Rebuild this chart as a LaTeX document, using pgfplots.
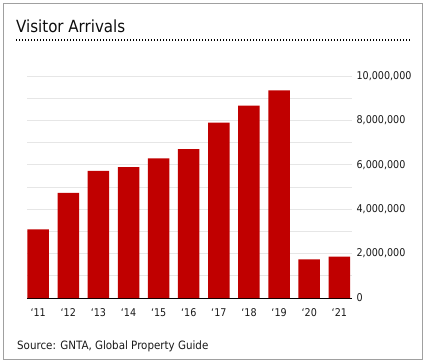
\documentclass[border=0pt]{standalone}
\usepackage{pgfplots}
\pgfplotsset{compat=1.18}
\usepackage{fontspec}
\setmainfont{DejaVu Sans Condensed}
\definecolor{barred}{HTML}{C00000}
\definecolor{gridgray}{HTML}{E6E6E6}
\definecolor{framegray}{HTML}{A0A0A0}
\begin{document}
\begin{tikzpicture}[x=1bp,y=1bp]
\path (0,0) rectangle (428,364);
\draw[framegray, line width=1bp] (3.5,4.5) rectangle (422.5,360);
\node[anchor=base west, inner sep=0pt, font=\fontsize{16.8}{18}\selectfont, text=black!95] at (16,332) {Visitor Arrivals};
\draw[black, line width=1.4bp, dash pattern=on 1.4bp off 1.6bp] (16,324) -- (410,324);
\node[anchor=base west, inner sep=0pt, font=\fontsize{11.5}{13}\selectfont, text=black!90] at (17,15) {Source: GNTA, Global Property Guide};
\begin{axis}[
  at={(27bp,66bp)}, anchor=south west,
  scale only axis, width=325bp, height=222bp,
  xmin=-0.37, xmax=10.42, ymin=0, ymax=10000000,
  axis x line=bottom, axis y line=right,
  x axis line style={black, line width=0.8bp, -},
  y axis line style={draw=none},
  ybar, bar width=21.5bp,
  xtick={0,...,10},
  xticklabels={‘11,‘12,‘13,‘14,‘15,‘16,‘17,‘18,‘19,‘20,‘21},
  x tick style={draw=none},
  extra x ticks={-0.36,0.64,1.64,2.64,3.64,4.64,5.64,6.64,7.64,8.64,9.64},
  extra x tick labels={},
  extra x tick style={tick align=outside, major tick length=6bp, tick style={draw=gray!60, line width=0.8bp}, grid=none},
  ytick={0,2000000,4000000,6000000,8000000,10000000},
  minor ytick={1000000,3000000,5000000,7000000,9000000},
  y tick style={draw=none},
  ymajorgrids, yminorgrids,
  major grid style={gridgray, line width=0.8bp},
  minor grid style={gridgray, line width=0.8bp},
  scaled y ticks=false,
  /pgf/number format/.cd, fixed, 1000 sep={,}, assume math mode=true,
  /pgfplots/.cd,
  yticklabel style={anchor=west, xshift=-1bp, font=\fontsize{10.7}{12}\selectfont, text=black!90},
  xticklabel style={font=\fontsize{10.7}{12}\selectfont, text=black!90, yshift=-3bp},
]
\addplot[fill=barred, draw=none] coordinates {
(0,3090000) (1,4730000) (2,5730000) (3,5890000) (4,6290000) (5,6710000)
(6,7900000) (7,8660000) (8,9350000) (9,1740000) (10,1860000)};
\end{axis}
\end{tikzpicture}
\end{document}
